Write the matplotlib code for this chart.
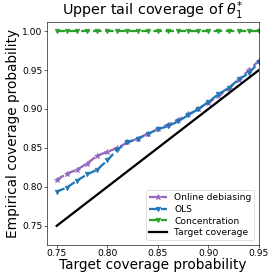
import numpy as np
import matplotlib
matplotlib.use("Agg")
import matplotlib.pyplot as plt

target = np.round(np.arange(0.75, 0.951, 0.01), 2)
online_debiasing = [0.809, 0.817, 0.822, 0.830, 0.840, 0.845, 0.850, 0.857, 0.862, 0.868, 0.874,
                    0.880, 0.886, 0.893, 0.900, 0.908, 0.917, 0.926, 0.937, 0.950, 0.962]
ols = [0.794, 0.799, 0.808, 0.816, 0.822, 0.834, 0.848, 0.857, 0.862, 0.868, 0.874,
       0.878, 0.884, 0.892, 0.900, 0.909, 0.919, 0.927, 0.938, 0.946, 0.960]
concentration = [1.0] * 21

dpi = 54.6
fig = plt.figure(figsize=(274 / dpi, 272 / dpi), dpi=dpi)
ax = fig.add_axes([0.170, 0.101, 0.775, 0.819])

ax.plot(target, online_debiasing, '--', marker='*', color='tab:purple', lw=3, ms=7, label='Online debiasing')
ax.plot(target, ols, '--', marker='v', color='tab:blue', lw=3, ms=6, label='OLS')
ax.plot(target, concentration, '--', marker='v', color='tab:green', lw=3, ms=6, label='Concentration')
ax.plot(target, target, '-', color='black', lw=3, label='Target coverage')

ax.set_xlim(0.74, 0.95)
ax.set_ylim(0.726, 1.012)
ax.set_xticks([0.75, 0.80, 0.85, 0.90, 0.95])
ax.set_yticks([0.75, 0.80, 0.85, 0.90, 0.95, 1.00])
ax.tick_params(labelsize=12, pad=2)

ax.set_title(r'Upper tail coverage of $\theta_1^{*}$', fontsize=19, pad=3)
ax.set_xlabel('Target coverage probability', fontsize=18, labelpad=0)
ax.set_ylabel('Empirical coverage probability', fontsize=18, labelpad=3)
ax.legend(loc='lower right', fontsize=12, handlelength=2, borderpad=0.3, labelspacing=0.3)

plt.savefig('out.png', dpi=dpi)
